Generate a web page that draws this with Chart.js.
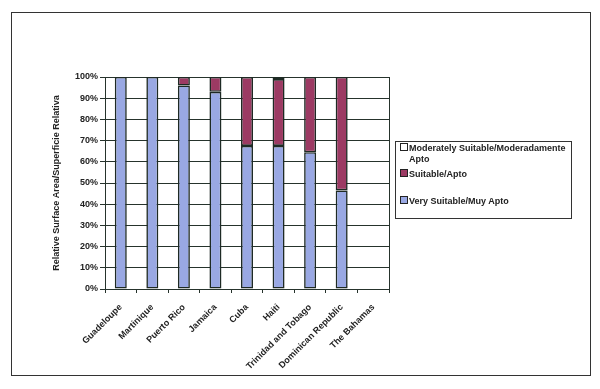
<!DOCTYPE html>
<html>
<head>
<meta charset="utf-8">
<script src="https://cdn.jsdelivr.net/npm/chart.js@4/dist/chart.umd.min.js"></script>
<style>
  body { margin: 0; background: #fff; }
  #wrap { position: relative; width: 600px; height: 389px; }
  #frame { position: absolute; left: 11px; top: 12px; width: 578px; height: 362px; border: 1px solid #333; }
  #legend { position: absolute; left: 395px; top: 141px; width: 175px; height: 76px; border: 1px solid #333;
            font: bold 9px "Liberation Sans", Arial, sans-serif; color: #222; }
  .item { position: absolute; left: 4px; line-height: 11px; }
  .box { display: inline-block; width: 6px; height: 6px; border: 1px solid #222; margin-right: 1px; vertical-align: 0px; }
  .cont { padding-left: 9px; }
</style>
</head>
<body>
<div id="wrap">
  <div id="frame"></div>
  <canvas id="chart" width="600" height="389"></canvas>
  <div id="legend"></div>
</div>
<script>
// Relative surface area by suitability class (%)
const countries = ['Guadeloupe', 'Martinique', 'Puerto Rico', 'Jamaica', 'Cuba', 'Haiti',
                   'Trinidad and Tobago', 'Dominican Republic', 'The Bahamas'];
const verySuitable = [100, 100, 96, 93, 67.5, 67.5, 64.5, 46.5, null];
const suitable = [0, 0, 4, 7, 32.5, 31.5, 35.5, 53.5, null];
const moderatelySuitable = [0, 0, 0, 0, 0, 1, 0, 0, null];
const yTicks = [0, 10, 20, 30, 40, 50, 60, 70, 80, 90, 100];

const lineColor = '#26332c';
const font = { family: '"Liberation Sans", Arial, sans-serif', size: 9, weight: 'bold' };

// right edge of plot area (Excel-style box)
const plotBorder = {
    id: 'plotBorder',
    afterDraw(chart) {
        const { ctx, chartArea } = chart;
        ctx.save();
        ctx.strokeStyle = lineColor;
        ctx.lineWidth = 1;
        ctx.beginPath();
        ctx.moveTo(Math.round(chartArea.right) + 0.5, chartArea.top);
        ctx.lineTo(Math.round(chartArea.right) + 0.5, chartArea.bottom);
        ctx.stroke();
        ctx.restore();
    }
};

const datasets = [{
    label: 'Very Suitable/Muy Apto',
    data: verySuitable,
    backgroundColor: '#99a8e3'
}, {
    label: 'Suitable/Apto',
    data: suitable,
    backgroundColor: '#9c3a63'
}, {
    label: 'Moderately Suitable/Moderadamente Apto',
    data: moderatelySuitable,
    backgroundColor: '#ffffff'
}];
datasets.forEach(d => {
    d.borderColor = '#1e2a24';
    d.borderWidth = 1.6;
    d.borderSkipped = false;
    d.barPercentage = 0.38;
    d.categoryPercentage = 1;
});

const ctx = document.getElementById('chart').getContext('2d');
new Chart(ctx, {
    type: 'bar',
    data: { labels: countries, datasets: datasets },
    plugins: [plotBorder],
    options: {
        responsive: false,
        animation: false,
        layout: { padding: { left: 50, top: 77, right: 211, bottom: 0 } },
        plugins: {
            legend: { display: false },
            tooltip: { enabled: false }
        },
        scales: {
            x: {
                stacked: true,
                afterFit: s => { s.height = 100; },
                grid: { display: true, drawOnChartArea: false, offset: true, tickLength: 4, color: lineColor },
                border: { color: lineColor },
                ticks: { color: '#222', font: font, minRotation: 45, maxRotation: 45, autoSkip: false, padding: 9 }
            },
            y: {
                stacked: true,
                min: 0,
                max: 100,
                afterFit: s => { s.width = 55; },
                afterBuildTicks: s => { s.ticks = yTicks.map(v => ({ value: v })); },
                grid: { color: lineColor, tickLength: 5 },
                border: { color: lineColor },
                ticks: { color: '#222', font: font, padding: 2, callback: v => v + '%' },
                title: {
                    display: true,
                    text: 'Relative Surface Area/Superficie Relativa',
                    color: '#222',
                    font: font,
                    padding: { top: 1, bottom: 0 }
                }
            }
        }
    }
});

// legend, reversed like the original
const legend = document.getElementById('legend');
const tops = [1, 27, 54];
datasets.slice().reverse().forEach((d, i) => {
    const el = document.createElement('div');
    el.className = 'item';
    el.style.top = tops[i] + 'px';
    const words = d.label.split(' ');
    let html = '<span class="box" style="background:' + d.backgroundColor + '"></span>';
    if (d.label.length > 30) {
        html += words.slice(0, -1).join(' ') + '<div class="cont">' + words[words.length - 1] + '</div>';
    } else {
        html += d.label;
    }
    el.innerHTML = html;
    legend.appendChild(el);
});
</script>
</body>
</html>
